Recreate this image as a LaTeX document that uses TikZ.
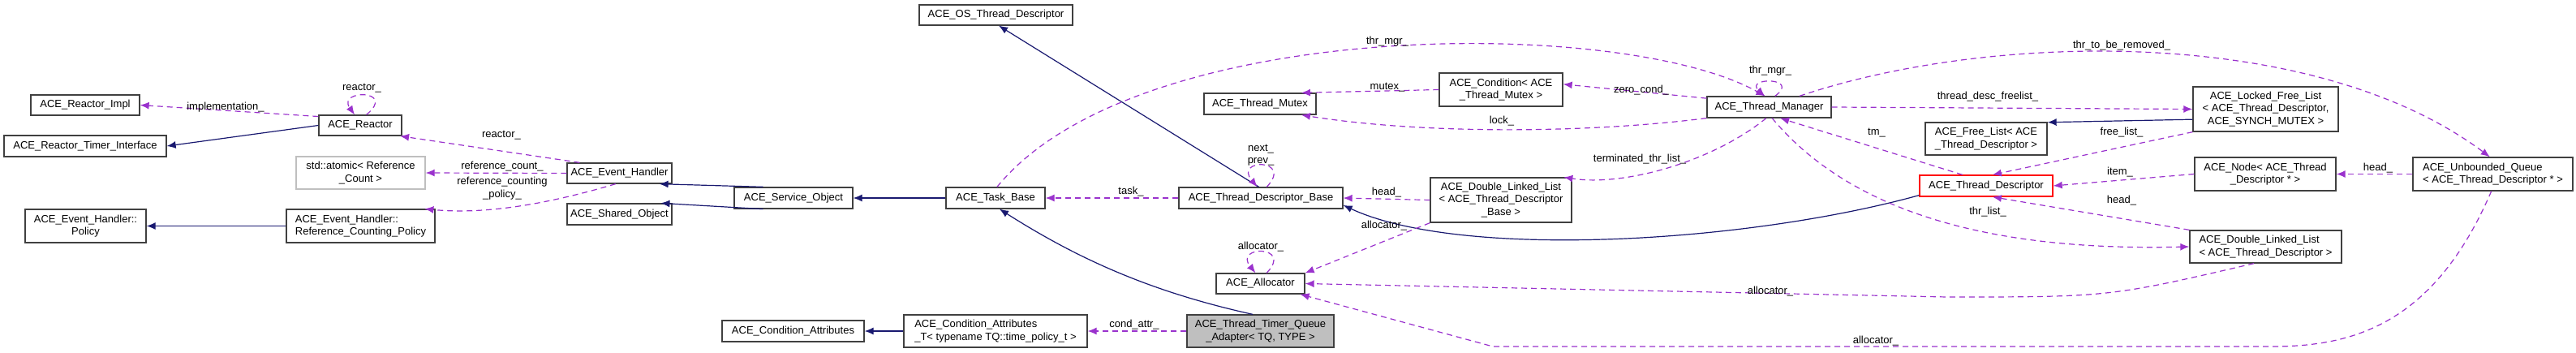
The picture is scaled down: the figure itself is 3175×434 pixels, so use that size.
\documentclass[tikz,border=0pt]{standalone}
\usepackage{fontspec}
\setmainfont{Liberation Sans}
\usetikzlibrary{arrows.meta}
\definecolor{inhc}{RGB}{25,25,112}
\definecolor{usec}{RGB}{154,50,205}
\begin{document}
\begin{tikzpicture}[x=1pt,y=-1pt,
  box/.style={draw=black!75,line width=1.3pt,fill=white,inner sep=2pt,font=\fontsize{13}{15.5}\selectfont,align=center},
  inh/.style={draw=inhc,line width=1.2pt,-{Latex[length=11pt,width=9pt]}},
  use/.style={draw=usec,line width=1.2pt,dash pattern=on 7pt off 5pt,-{Latex[length=11pt,width=9pt]}},
  lab/.style={font=\fontsize{13}{15.5}\selectfont,inner sep=0pt,align=center}]
\useasboundingbox (0,0) rectangle (3175,434);
% nodes
\node[box,minimum width=134,minimum height=25] (RImpl) at (105,129.5) {ACE\_Reactor\_Impl};
\node[box,minimum width=200,minimum height=26] (RTI) at (105,180) {ACE\_Reactor\_Timer\_Interface};
\node[box,minimum width=102,minimum height=25] (Reactor) at (444,154.5) {ACE\_Reactor};
\node[box,draw=black!25,minimum width=159,minimum height=40] (atomic) at (444.5,213) {std::atomic\textless{} Reference\\\_Count \textgreater};
\node[box,minimum width=149,minimum height=41] (Policy) at (105.5,278.5) {ACE\_Event\_Handler::\\Policy};
\node[box,align=left,minimum width=183,minimum height=41] (RCP) at (444.5,278.5) {ACE\_Event\_Handler::\\Reference\_Counting\_Policy};
\node[box,minimum width=129,minimum height=25] (EH) at (763.5,213.5) {ACE\_Event\_Handler};
\node[box,minimum width=129,minimum height=26] (SO) at (763.5,264) {ACE\_Shared\_Object};
\node[box,minimum width=189,minimum height=25] (OSTD) at (1227.5,18.5) {ACE\_OS\_Thread\_Descriptor};
\node[box,minimum width=146,minimum height=26] (Serv) at (978,244) {ACE\_Service\_Object};
\node[box,minimum width=122,minimum height=26] (Task) at (1227,244) {ACE\_Task\_Base};
\node[box,minimum width=202,minimum height=26] (TDB) at (1554,244) {ACE\_Thread\_Descriptor\_Base};
\node[box,minimum width=138,minimum height=26] (TMutex) at (1553,128) {ACE\_Thread\_Mutex};
\node[box,minimum width=109,minimum height=25] (Alloc) at (1553.5,349.5) {ACE\_Allocator};
\node[box,minimum width=175,minimum height=26] (CA) at (977.5,408) {ACE\_Condition\_Attributes};
\node[box,align=left,minimum width=226,minimum height=40] (CAT) at (1227,408) {ACE\_Condition\_Attributes\\\_T\textless{} typename TQ::time\_policy\_t \textgreater};
\node[box,fill=black!25,minimum width=181,minimum height=40] (Adapter) at (1553.5,408) {ACE\_Thread\_Timer\_Queue\\\_Adapter\textless{} TQ, TYPE \textgreater};
\node[box,minimum width=152,minimum height=41] (Cond) at (1850,110.5) {ACE\_Condition\textless{} ACE\\\_Thread\_Mutex \textgreater};
\node[box,minimum width=153,minimum height=26] (TM) at (2180.5,132) {ACE\_Thread\_Manager};
\node[box,minimum width=174,minimum height=55] (DLLB) at (1850,246.5) {ACE\_Double\_Linked\_List\\\textless{} ACE\_Thread\_Descriptor\\\_Base \textgreater};
\node[box,minimum width=150,minimum height=40] (FL) at (2448,171) {ACE\_Free\_List\textless{} ACE\\\_Thread\_Descriptor \textgreater};
\node[box,draw=red,minimum width=164,minimum height=26] (TD) at (2448,229) {ACE\_Thread\_Descriptor};
\node[box,minimum width=179,minimum height=55] (Locked) at (2792.5,134.5) {ACE\_Locked\_Free\_List\\\textless{} ACE\_Thread\_Descriptor,\\ACE\_SYNCH\_MUTEX \textgreater};
\node[box,minimum width=174,minimum height=41] (Node) at (2792,214.5) {ACE\_Node\textless{} ACE\_Thread\\\_Descriptor * \textgreater};
\node[box,align=left,minimum width=197,minimum height=41] (UQ) at (3072.5,214.5) {ACE\_Unbounded\_Queue\\\textless{} ACE\_Thread\_Descriptor * \textgreater};
\node[box,align=left,minimum width=187,minimum height=40] (DLLT) at (2792.5,304) {ACE\_Double\_Linked\_List\\\textless{} ACE\_Thread\_Descriptor \textgreater};
% inheritance
\draw[inh] (Reactor.west) -- (RTI.east);
\draw[inh] (RCP.west) -- (Policy.east);
\draw[inh] (Serv.160) -- (EH.-15);
\draw[inh] (Serv.-160) -- (SO.15);
\draw[inh] (Task.west) -- (Serv.east);
\draw[inh] (Adapter.115) .. controls (1420,360) and (1330,320) .. (Task.-70);
\draw[inh] (CAT.west) -- (CA.east);
\draw[inh] (TDB.100) -- (OSTD.-75);
\draw[inh] (TD.-172) .. controls (2150,300) and (1800,320) .. (TDB.-5);
\draw[inh] (Locked.188) -- (FL.15);
% usage
\draw[use] (Reactor.168) -- (RImpl.east);
\draw[use] (Reactor.60) .. controls (490,110) and (415,110) .. (Reactor.118);
\draw[use] (EH.165) -- (Reactor.-15);
\draw[use] (EH.west) -- (atomic.east);
\draw[use] (EH.-110) .. controls (680,250) and (600,265) .. (RCP.15);
\draw[use] (TDB.west) -- (Task.east);
\draw[use] (TDB.62) .. controls (1595,195) and (1520,195) .. (TDB.108);
\draw[use] (Task.82) .. controls (1400,20) and (2000,20) .. (TM.110);
\draw[use] (Cond.west) -- (TMutex.15);
\draw[use] (TM.172) -- (Cond.5);
\draw[use] (TM.-170) .. controls (1950,165) and (1750,165) .. (TMutex.-15);
\draw[use] (TM.62) .. controls (2220,95) and (2150,95) .. (TM.112);
\draw[use] (TM.-105) .. controls (2110,200) and (2000,230) .. (DLLB.20);
\draw[use] (DLLB.west) -- (TDB.east);
\draw[use] (DLLB.south west) -- (Alloc.north east);
\draw[use] (Alloc.60) .. controls (1595,302) and (1520,302) .. (Alloc.115);
\draw[use] (Adapter.west) -- (CAT.east);
\draw[use] (TM.east) -- (Locked.west);
\draw[use] (TM.20) .. controls (2450,40) and (2850,30) .. (UQ.100);
\draw[use] (Locked.south west) -- (TD.60);
\draw[use] (TD.155) -- (TM.-45);
\draw[use] (TM.-75) .. controls (2280,260) and (2450,310) .. (DLLT.west);
\draw[use] (Node.west) -- (TD.east);
\draw[use] (UQ.west) -- (Node.east);
\draw[use] (DLLT.north west) -- (TD.-60);
\draw[use] (DLLT.-125) .. controls (2600,366) .. (2400,366) -- (Alloc.east);
\draw[use] (UQ.-95) .. controls (3000,400) and (2900,427) .. (2800,427) -- (1840,427) -- (Alloc.-15);
% labels
\node[lab] (l1) at (278,132) {implementation\_};
\node[lab] (l2) at (446,109) {reactor\_};
\node[lab] (l3) at (618,167) {reactor\_};
\node[lab] (l4) at (619,205) {reference\_count\_};
\node[lab] (l5) at (619,232) {reference\_counting\\\_policy\_};
\node[lab] (l6) at (1394,236) {task\_};
\node[lab] (l7) at (1554,191) {next\_\\prev\_};
\node[lab] (l8) at (1710,51) {thr\_mgr\_};
\node[lab] (l9) at (1710,108) {mutex\_};
\node[lab] (l10) at (2023,111) {zero\_cond\_};
\node[lab] (l11) at (1851,149) {lock\_};
\node[lab] (l12) at (2182,87) {thr\_mgr\_};
\node[lab] (l13) at (2021,196) {terminated\_thr\_list\_};
\node[lab] (l14) at (1709,237) {head\_};
\node[lab] (l15) at (1706,278) {allocator\_};
\node[lab] (l16) at (1554,304) {allocator\_};
\node[lab] (l17) at (1398,400) {cond\_attr\_};
\node[lab] (l18) at (2182,359) {allocator\_};
\node[lab] (l19) at (2312,420) {allocator\_};
\node[lab] (l20) at (2313,164) {tm\_};
\node[lab] (l21) at (2450,119) {thread\_desc\_freelist\_};
\node[lab] (l22) at (2615,56) {thr\_to\_be\_removed\_};
\node[lab] (l23) at (2615,163) {free\_list\_};
\node[lab] (l24) at (2613,212) {item\_};
\node[lab] (l25) at (2615,247) {head\_};
\node[lab] (l26) at (2450,261) {thr\_list\_};
\node[lab] (l27) at (2931,207) {head\_};
\end{tikzpicture}
\end{document}
